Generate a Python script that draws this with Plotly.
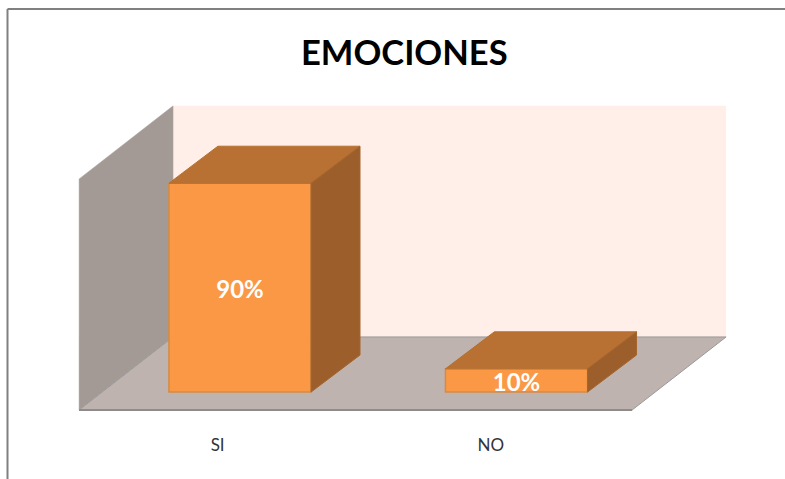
import plotly.graph_objects as go

categories = ["SI", "NO"]
values = [90, 10]
labels = ["90%", "10%"]
bar_pos = [0, 1]
tick_pos = [-0.081, 0.907]

BAR_WIDTH = 0.514
DEPTH_X = 0.177
DEPTH_Y = 15.95
LABEL_DROP = 1.8

FRONT = "#FB9846"
TOP = "#B97033"
SIDE = "#9C5F2B"
EDGE = "#D58A45"

# room, in axis units (x = category spacing, y = percent)
FLOOR_L, FLOOR_R = -0.582, 1.418
FLOOR_DX, FLOOR_DY = 0.34, 31.5
FLOOR_Y = -7.76
WALL_H = 99.6


def poly(points):
    return "M " + " L ".join(f"{x},{y}" for x, y in points) + " Z"


def paper_x(px):
    return px / 785


def paper_y(py):
    return (418 - py) / 418


back_y = FLOOR_Y + FLOOR_DY
shapes = [
    dict(
        type="path",
        layer="below",
        path=poly([
            (FLOOR_L + FLOOR_DX, back_y),
            (FLOOR_R + FLOOR_DX, back_y),
            (FLOOR_R + FLOOR_DX, back_y + WALL_H),
            (FLOOR_L + FLOOR_DX, back_y + WALL_H),
        ]),
        fillcolor="#FFEFE8",
        line_width=0,
    ),
    dict(
        type="path",
        layer="below",
        path=poly([
            (FLOOR_L, FLOOR_Y),
            (FLOOR_L + FLOOR_DX, back_y),
            (FLOOR_L + FLOOR_DX, back_y + WALL_H),
            (FLOOR_L, FLOOR_Y + WALL_H),
        ]),
        fillcolor="#A39A95",
        line=dict(color="#AFA8A4", width=0.5),
    ),
    dict(
        type="path",
        layer="below",
        path=poly([
            (FLOOR_L, FLOOR_Y),
            (FLOOR_R, FLOOR_Y),
            (FLOOR_R + FLOOR_DX, back_y),
            (FLOOR_L + FLOOR_DX, back_y),
        ]),
        fillcolor="#BFB3AF",
        line=dict(color="#9A9A9A", width=1),
    ),
    dict(
        type="line",
        layer="below",
        x0=FLOOR_L, x1=FLOOR_R, y0=FLOOR_Y, y1=FLOOR_Y,
        line=dict(color="#8C8C8C", width=2),
    ),
    # outer picture frame
    dict(
        type="line", xref="paper", yref="paper",
        x0=paper_x(7.5), x1=paper_x(7.5), y0=paper_y(479), y1=paper_y(9),
        line=dict(color="#808080", width=2),
    ),
    dict(
        type="line", xref="paper", yref="paper",
        x0=paper_x(7.5), x1=1, y0=paper_y(9), y1=paper_y(9),
        line=dict(color="#808080", width=2),
    ),
]

fig = go.Figure()

for pos, val in zip(bar_pos, values):
    left, right = pos - BAR_WIDTH / 2, pos + BAR_WIDTH / 2
    fig.add_trace(go.Scatter(
        x=[left, right, right + DEPTH_X, left + DEPTH_X, left],
        y=[val, val, val + DEPTH_Y, val + DEPTH_Y, val],
        mode="lines", fill="toself", fillcolor=TOP,
        line=dict(color="#B5702F", width=1), hoverinfo="skip",
    ))
    fig.add_trace(go.Scatter(
        x=[right, right + DEPTH_X, right + DEPTH_X, right, right],
        y=[0, DEPTH_Y, val + DEPTH_Y, val, 0],
        mode="lines", fill="toself", fillcolor=SIDE,
        line=dict(color="#A5652C", width=1), hoverinfo="skip",
    ))

fig.add_trace(go.Bar(
    x=bar_pos,
    y=values,
    width=BAR_WIDTH,
    marker=dict(color=FRONT, line=dict(color=EDGE, width=1.5)),
))

fig.add_trace(go.Scatter(
    x=bar_pos,
    y=[v / 2 - LABEL_DROP for v in values],
    text=labels,
    mode="text",
    textposition="middle center",
    textfont=dict(family="Lato", size=24, color="white", weight="bold"),
))

fig.update_layout(
    width=785,
    height=479,
    margin=dict(l=0, r=0, t=0, b=61),
    paper_bgcolor="white",
    plot_bgcolor="white",
    showlegend=False,
    shapes=shapes,
    annotations=[dict(
        text="<b>EMOCIONES</b>",
        xref="paper", yref="paper",
        x=paper_x(404), y=paper_y(52),
        xanchor="center", yanchor="middle",
        showarrow=False,
        font=dict(family="Lato", size=34.5, color="black"),
    )],
    xaxis=dict(
        range=[-0.868, 1.971],
        tickmode="array",
        tickvals=tick_pos,
        ticktext=categories,
        ticks="outside",
        ticklen=12,
        tickcolor="rgba(0,0,0,0)",
        showgrid=False,
        zeroline=False,
        showline=False,
        tickfont=dict(family="Lato", size=17, color="#333333"),
    ),
    yaxis=dict(
        range=[-11.2, 168.97],
        visible=False,
        showgrid=False,
        zeroline=False,
    ),
)

fig.write_html(
    "out.html",
    config={"displayModeBar": False},
    post_script="document.body.style.margin='0';",
)
